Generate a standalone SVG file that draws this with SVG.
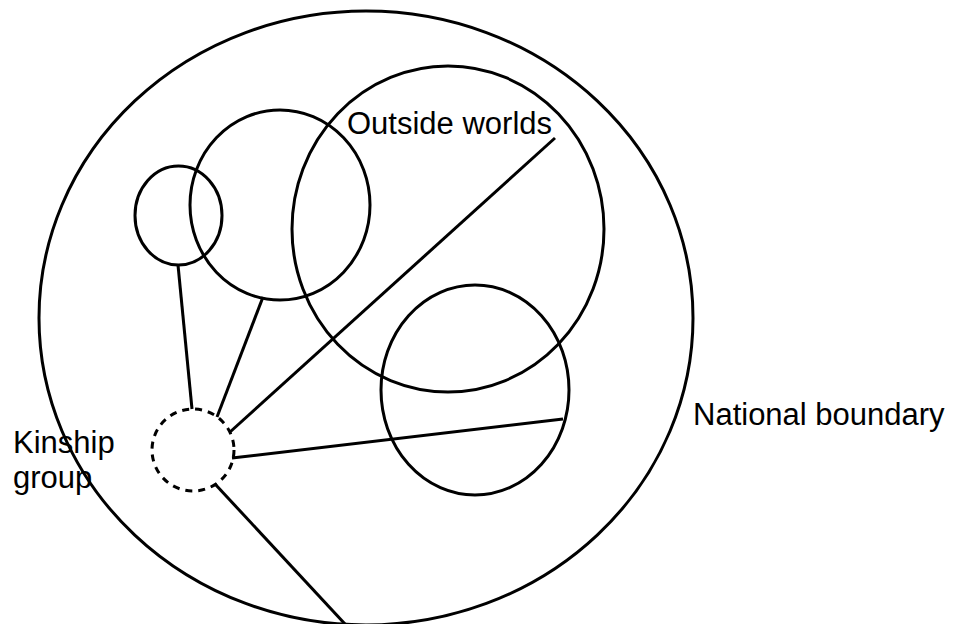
<svg xmlns="http://www.w3.org/2000/svg" width="968" height="624" viewBox="0 0 968 624">
<style>
.c{fill:none;stroke:#000;stroke-width:3}
.d{fill:none;stroke:#000;stroke-width:3;stroke-dasharray:7 6}
.l{stroke:#000;stroke-width:3;fill:none}
text{font-family:"Liberation Sans",Arial,sans-serif;font-size:31px;fill:#000}
</style>
<rect width="968" height="624" fill="#fff"/>
<g id="national"><ellipse class="c" cx="366" cy="318" rx="327" ry="307"/><text x="693" y="425">National boundary</text></g>
<g id="small"><ellipse class="c" cx="178.5" cy="215.5" rx="43.5" ry="49.5"/></g>
<g id="medium"><ellipse class="c" cx="280" cy="205" rx="90" ry="95"/></g>
<g id="outside"><ellipse class="c" cx="448" cy="229" rx="156" ry="163"/><text x="347" y="134">Outside worlds</text></g>
<g id="lower"><ellipse class="c" cx="475" cy="390" rx="94" ry="105"/></g>
<g id="kinship"><circle class="d" cx="193" cy="450" r="41"/><text x="13" y="453">Kinship</text><text x="13" y="488">group</text></g>
<g id="connectors">
<line class="l" x1="178" y1="265" x2="192" y2="409"/>
<line class="l" x1="263" y1="297" x2="217" y2="417"/>
<line class="l" x1="555" y1="138" x2="230" y2="432"/>
<line class="l" x1="232" y1="458" x2="563" y2="419"/>
<line class="l" x1="215" y1="484" x2="345" y2="624"/>
</g>
</svg>
